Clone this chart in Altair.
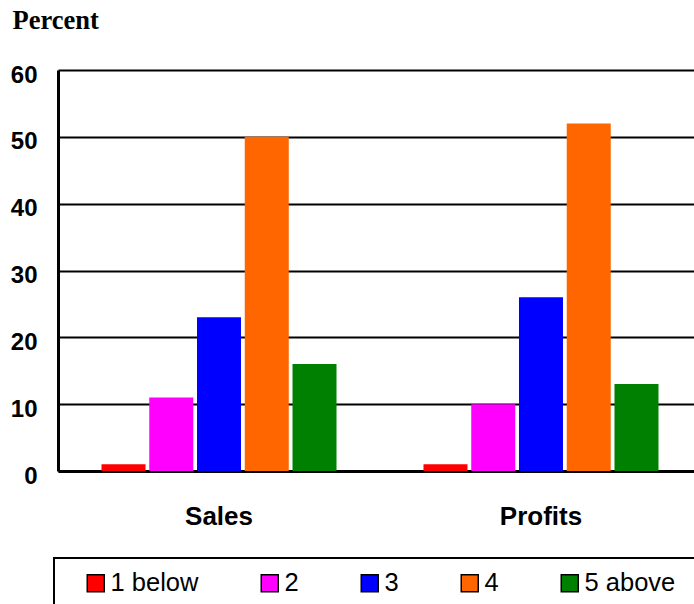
import altair as alt
import pandas as pd

groups = ["Sales", "Profits"]
ratings = ["1 below", "2", "3", "4", "5 above"]
sales = [1, 11, 23, 50, 16]
profits = [1, 10, 26, 52, 13]
colors = ["#FF0000", "#FF00FF", "#0000FF", "#FF6600", "#008000"]

rows = []
for g, vals in zip(groups, [sales, profits]):
    for r, v in zip(ratings, vals):
        rows.append({"group": g, "rating": r, "value": v})
df = pd.DataFrame(rows)

label_expr = ("datum.label == '5 above' ? datum.label + "
              "'\u00a0\u00a0\u00a0\u00a0\u200b' : datum.label")

chart = alt.Chart(df).mark_bar().encode(
    x=alt.X("group:N", sort=groups,
            scale=alt.Scale(paddingInner=0.2547, paddingOuter=0.115, align=0.554),
            axis=alt.Axis(title=None, labelAngle=0, labelFont="Liberation Sans",
                          labelFontWeight="bold", labelFontSize=26, labelColor="black",
                          labelPadding=32, ticks=False, domainColor="black",
                          domainWidth=3, labelBaseline="top")),
    xOffset=alt.XOffset("rating:N", sort=ratings,
                        scale=alt.Scale(paddingInner=0.0785, paddingOuter=0.052)),
    y=alt.Y("value:Q", scale=alt.Scale(domain=[0, 60], nice=False),
            axis=alt.Axis(values=[0, 10, 20, 30, 40, 50, 60], title="Percent",
                          titleAngle=0, titleX=-46, titleY=-42, titleAlign="left",
                          titleBaseline="alphabetic", titleFont="Liberation Serif",
                          titleFontSize=26.5, titleFontWeight="bold", titleColor="black",
                          labelFont="Liberation Sans", labelFontWeight="bold",
                          labelFontSize=24, labelColor="black", labelPadding=21,
                          labelOffset=5, ticks=False, grid=True, gridColor="black",
                          gridWidth=2, gridOpacity=1, domainColor="black",
                          domainWidth=3)),
    color=alt.Color("rating:N", sort=ratings,
                    scale=alt.Scale(domain=ratings, range=colors),
                    legend=alt.Legend(title=" ", titleOrient="left", titleFontSize=1,
                                      titlePadding=17, orient="none", legendX=-4,
                                      legendY=488, direction="horizontal", columns=5,
                                      symbolType="square", symbolSize=289,
                                      symbolStrokeColor="black", symbolStrokeWidth=1.5,
                                      symbolOpacity=1,
                                      labelExpr=label_expr,
                                      labelFont="Liberation Sans", labelFontSize=25.5,
                                      labelColor="black", labelOffset=2,
                                      columnPadding=58, padding=12,
                                      strokeColor="black", fillColor="white")),
).properties(
    width=636, height=401,
    autosize=alt.AutoSizeParams(type="none"),
    padding={"left": 58, "top": 70, "right": 0, "bottom": 133},
).configure_view(stroke=None).configure_legend(strokeWidth=2)

chart.save("out.html", embed_options={"renderer": "svg", "actions": False})
